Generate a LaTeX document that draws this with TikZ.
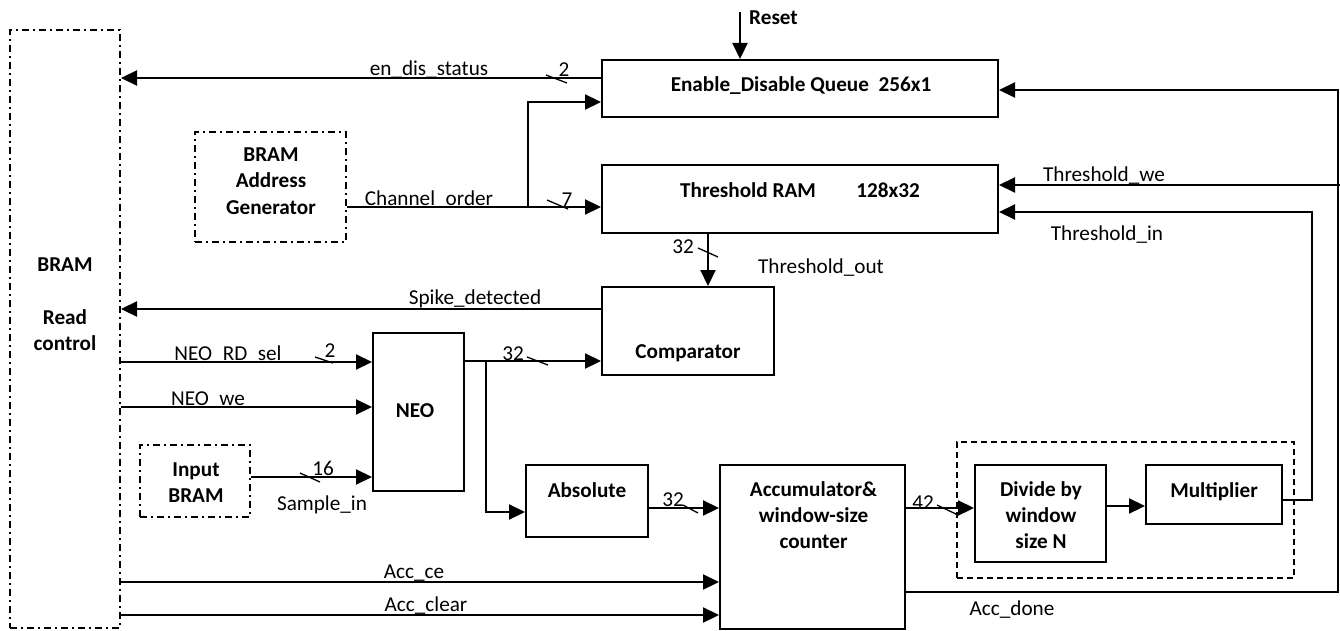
\documentclass[tikz,border=0pt]{standalone}
\usepackage{fontspec}
\setmainfont{Carlito}
\usetikzlibrary{arrows.meta,calc}
\begin{document}
\begin{tikzpicture}[x=1pt,y=-1pt,
  box/.style={draw,line width=2pt,inner sep=0pt},
  ddbox/.style={draw,line width=2pt,inner sep=0pt,dash pattern=on 7pt off 4pt on 2pt off 4pt},
  grp/.style={draw,line width=2pt,inner sep=0pt,dash pattern=on 6pt off 4pt},
  wire/.style={line width=2.2pt},
  arr/.style={wire,-{Triangle[length=16pt,width=15pt]}},
  tick/.style={line width=1.3pt},
  lbl/.style={font=\fontsize{21.2}{26}\selectfont,inner sep=0pt,anchor=base},
  blbl/.style={lbl,font=\fontsize{21.2}{26}\selectfont\bfseries,align=center},
]
\useasboundingbox (0,0) rectangle (1340,631);

% boxes
\node[ddbox,minimum width=110pt,minimum height=598pt] (ctrl) at (65,329) {};
\node[box,minimum width=396pt,minimum height=57pt] (queue) at (800,88.5) {};
\node[box,minimum width=396pt,minimum height=68pt] (thr) at (800,199) {};
\node[ddbox,minimum width=151pt,minimum height=110pt] (bag) at (270.5,187) {};
\node[box,minimum width=172pt,minimum height=88pt] (cmp) at (688,331) {};
\node[box,minimum width=91pt,minimum height=158pt] (neo) at (418.5,412) {};
\node[ddbox,minimum width=110pt,minimum height=72pt] (inb) at (195,481) {};
\node[box,minimum width=122pt,minimum height=72pt] (abs) at (587,501) {};
\node[box,minimum width=185pt,minimum height=164pt] (acc) at (812.5,547) {};
\node[grp,minimum width=337pt,minimum height=136pt] (grp) at (1125.5,510) {};
\node[box,minimum width=131pt,minimum height=97pt] (div) at (1040.5,513.5) {};
\node[box,minimum width=136pt,minimum height=59pt] (mul) at (1214,494.5) {};

% box texts (base anchor = baseline of the last line)
\node[blbl] (ctrlT) at (65,350) {BRAM\\[27pt]Read\\control};
\node[blbl] (queueT) at (801,92) {Enable\_Disable Queue\ \ 256x1};
\node[blbl] (thrT) at (748,197) {Threshold RAM};
\node[blbl] (thrS) at (888,197) {128x32};
\node[blbl] (bagT) at (271,214) {BRAM\\Address\\Generator};
\node[blbl] (cmpT) at (688,358) {Comparator};
\node[blbl] (neoT) at (415,417) {NEO};
\node[blbl] (inbT) at (196,502) {Input\\BRAM};
\node[blbl] (absT) at (587,497) {Absolute};
\node[blbl] (accT) at (813.5,548) {Accumulator\&\\window-size\\counter};
\node[blbl] (divT) at (1041,548) {Divide by\\window\\size N};
\node[blbl] (mulT) at (1214,497) {Multiplier};
\node[blbl,anchor=base west] (rstT) at (749,25) {Reset};

% connectors
\coordinate (rst) at (740,12);
\draw[arr] (rst) -- (rst |- queue.north);
\draw[arr] ([yshift=10.5pt]queue.west) -- ([yshift=10.5pt]queue.west -| ctrl.east);
\draw[arr] ([yshift=-20pt]bag.east) -- ([yshift=-20pt]bag.east -| thr.west);
\coordinate (chbr) at (528,207);
\draw[arr] (chbr) |- ([yshift=-13.5pt]queue.west);
\coordinate (twe) at (1340,185);
\draw[arr] (twe) -- (twe -| thr.east);
\coordinate (rbus) at (1338,592);
\draw[arr] ([yshift=-45pt]acc.east) -- (rbus) |- ([yshift=-1.5pt]queue.east);
\coordinate (tin) at (1312,500);
\draw[arr] ([yshift=-5.5pt]mul.east) -- (tin) |- ([yshift=-13pt]thr.east);
\coordinate (tout) at ($(cmp.north)+(20,0)$);
\draw[arr] (tout |- thr.south) -- (tout);
\draw[arr] ([yshift=22pt]cmp.west) -- ([yshift=22pt]cmp.west -| ctrl.east);
\draw[arr] ([yshift=50pt]neo.west -| ctrl.east) -- ([yshift=50pt]neo.west);
\draw[arr] ([yshift=5pt]neo.west -| ctrl.east) -- ([yshift=5pt]neo.west);
\draw[arr] ([yshift=4pt]inb.east) -- ([yshift=4pt]inb.east -| neo.west);
\draw[arr] ([yshift=-30pt]cmp.west -| neo.east) -- ([yshift=-30pt]cmp.west);
\coordinate (nbr) at (486,361);
\draw[arr] (nbr) |- ([yshift=-11pt]abs.west);
\draw[arr] ([yshift=-7pt]abs.east) -- ([yshift=-7pt]abs.east -| acc.west);
\draw[arr] ([yshift=-35pt]acc.west -| ctrl.east) -- ([yshift=-35pt]acc.west);
\draw[arr] ([yshift=-68pt]acc.west -| ctrl.east) -- ([yshift=-68pt]acc.west);
\draw[arr] ([yshift=39pt]acc.east) -- ([yshift=39pt]acc.east -| div.west);
\draw[arr] ([yshift=7.5pt]div.east) -- ([yshift=7.5pt]div.east -| mul.west);

% bus-width ticks
\draw[tick] (546,75) -- (567,83);
\draw[tick] (547,200) -- (568,209);
\draw[tick] (698,248) -- (718,257);
\draw[tick] (315,357) -- (333,363);
\draw[tick] (527,357) -- (548,365);
\draw[tick] (300,473) -- (320,482);
\draw[tick] (683,505) -- (698,513);
\draw[tick] (937,505) -- (958,515);

% signal labels
\node[lbl] (l1) at (429,76) {en\_dis\_status};
\node[lbl] (l2) at (564,77) {2};
\node[lbl] (l3) at (429,205) {Channel\_order};
\node[lbl] (l4) at (567,207) {7};
\node[lbl] (l5) at (1104,182) {Threshold\_we};
\node[lbl] (l6) at (1107,240) {Threshold\_in};
\node[lbl] (l7) at (683,253) {32};
\node[lbl] (l8) at (821,273) {Threshold\_out};
\node[lbl] (l9) at (475,304) {Spike\_detected};
\node[lbl] (l10) at (228,360) {NEO\_RD\_sel};
\node[lbl] (l11) at (330,357) {2};
\node[lbl] (l12) at (208,405) {NEO\_we};
\node[lbl] (l13) at (323,475) {16};
\node[lbl] (l14) at (322,510) {Sample\_in};
\node[lbl] (l15) at (513,360) {32};
\node[lbl] (l16) at (673,506) {32};
\node[lbl] (l17) at (923,509) {42};
\node[lbl] (l18) at (414,578) {Acc\_ce};
\node[lbl] (l19) at (426,611) {Acc\_clear};
\node[lbl] (l20) at (1012,615) {Acc\_done};
\end{tikzpicture}
\end{document}
